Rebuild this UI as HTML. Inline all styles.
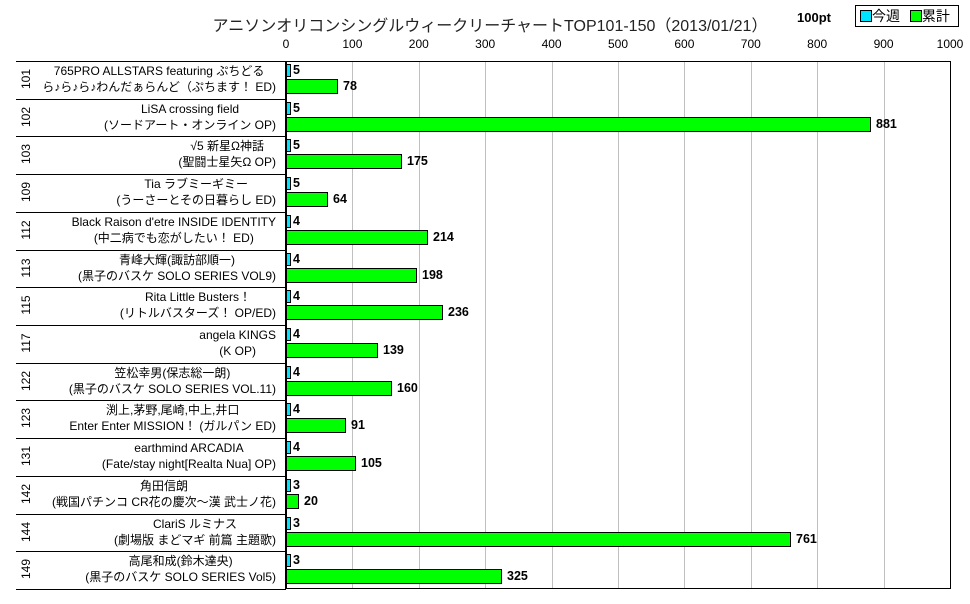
<!DOCTYPE html>
<html><head><meta charset="utf-8"><style>
body{margin:0;width:970px;height:604px;background:#fff;position:relative;overflow:hidden;font-family:"Liberation Sans","Noto Sans CJK JP",sans-serif;color:#000}
.a{position:absolute}
.t{font-size:16px;color:#222;left:5px;width:970px;text-align:center;top:12px}
.ax{font-size:12px;top:37px;width:40px;text-align:center}
.g{background:#c0c0c0;width:1px;top:61px;height:528px}
.row{left:16px;width:270px;height:37.7px;border-top:1px solid #000}
.rk{font-size:12px;transform:rotate(-90deg);transform-origin:center;width:30px;text-align:center}
.lb{right:10px;width:250px;text-align:right}
.lb span{display:inline-block;text-align:center;font-size:12px;line-height:16px;white-space:nowrap}
.c{background:#00e5ff;border:1px solid #000;box-sizing:border-box;height:13px;width:5px;left:286px}
.gr{background:#00ff00;border:1px solid #000;box-sizing:border-box;height:15px;left:286px}
.v{font-size:12.5px;font-weight:bold}
</style></head><body>
<div class="a t">アニソンオリコンシングルウィークリーチャートTOP101-150（2013/01/21）</div>
<div class="a" style="left:797px;top:10px;font-size:13px;font-weight:bold">100pt</div>
<div class="a" style="left:855px;top:5px;width:104px;height:22px;border:1px solid #000;box-sizing:border-box;font-size:14px;line-height:20px">
<span style="display:inline-block;width:10px;height:10px;background:#00e5ff;border:1px solid #000;margin-left:4px;vertical-align:-1px"></span>今週
<span style="display:inline-block;width:10px;height:10px;background:#00ff00;border:1px solid #000;margin-left:6px;vertical-align:-1px"></span>累計</div>
<div id="ax"></div>
<div class="a" style="left:285px;top:61px;width:666px;height:528px;border:1px solid #000;box-sizing:border-box;border-left:2px solid #000"></div>
<div class="a" style="left:16px;top:589px;width:270px;height:1px;background:#000"></div>
<div id="rows"></div>
<script>
var d=[["101","765PRO ALLSTARS featuring ぷちどる","ら♪ら♪ら♪わんだぁらんど（ぷちます！ ED)",5,78],
["102","LiSA  crossing field","(ソードアート・オンライン OP)",5,881],
["103","√5  新星Ω神話","(聖闘士星矢Ω OP)",5,175],
["109","Tia  ラブミーギミー","(うーさーとその日暮らし ED)",5,64],
["112","Black Raison d'etre  INSIDE IDENTITY","(中二病でも恋がしたい！ ED)",4,214],
["113","青峰大輝(諏訪部順一)","(黒子のバスケ SOLO SERIES VOL9)",4,198],
["115","Rita  Little Busters！","(リトルバスターズ！ OP/ED)",4,236],
["117","angela  KINGS","(K OP)",4,139],
["122","笠松幸男(保志総一朗)","(黒子のバスケ SOLO SERIES VOL.11)",4,160],
["123","渕上,茅野,尾崎,中上,井口","Enter Enter MISSION！ (ガルパン ED)",4,91],
["131","earthmind  ARCADIA","(Fate/stay night[Realta Nua] OP)",4,105],
["142","角田信朗","(戦国パチンコ CR花の慶次～漢 武士ノ花)",3,20],
["144","ClariS  ルミナス","(劇場版 まどマギ 前篇 主題歌)",3,761],
["149","高尾和成(鈴木達央)","(黒子のバスケ SOLO SERIES Vol5)",3,325]];
var h='',s=0.664;
for(var k=0;k<=10;k++){var x=286+k*66.4;h+='<div class="a ax" style="left:'+(x-20)+'px">'+(k*100)+'</div>';if(k>0&&k<10)h+='<div class="a g" style="left:'+Math.round(x)+'px"></div>';}
document.getElementById('ax').innerHTML=h;h='';
for(var i=0;i<d.length;i++){var r=d[i],t=61+37.71*i;
h+='<div class="a row" style="top:'+t+'px"></div>';
h+='<div class="a rk" style="left:11px;top:'+(t+11)+'px">'+r[0]+'</div>';
h+='<div class="a lb" style="left:16px;width:260px;top:'+(t+2)+'px"><span>'+r[1]+'<br>'+r[2]+'</span></div>';
h+='<div class="a c" style="top:'+(t+3)+'px"></div>';
h+='<div class="a v" style="left:293px;top:'+(t+2)+'px">'+r[3]+'</div>';
var w=Math.max(3,Math.round(r[4]*s));
h+='<div class="a gr" style="top:'+(t+18)+'px;width:'+w+'px"></div>';
h+='<div class="a v" style="left:'+(286+w+5)+'px;top:'+(t+18)+'px">'+r[4]+'</div>';}
document.getElementById('rows').innerHTML=h;
</script>
</body></html>
